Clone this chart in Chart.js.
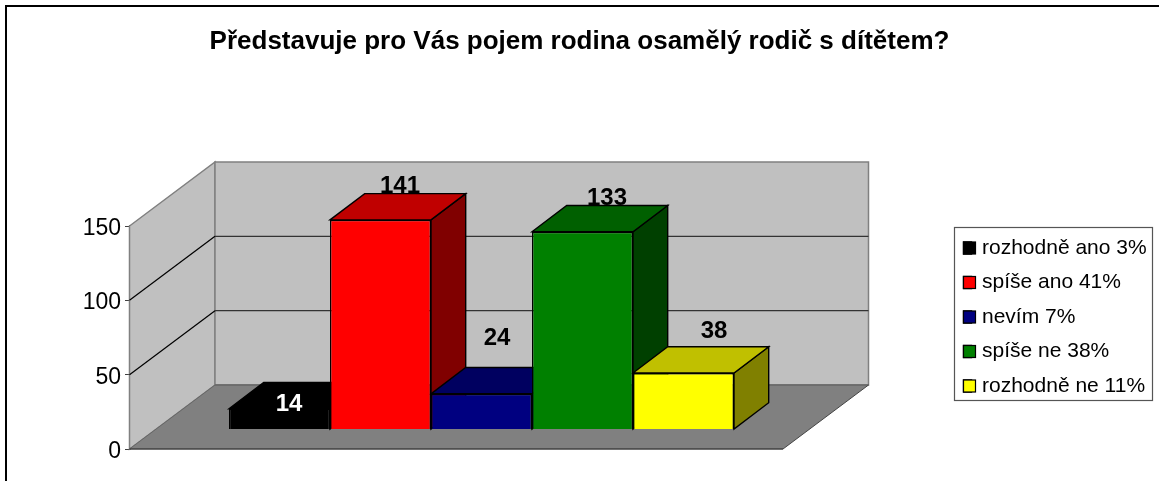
<!DOCTYPE html>
<html><head><meta charset="utf-8">
<style>html,body{margin:0;padding:0;background:#fff}canvas{display:block}</style>
<script src="https://cdn.jsdelivr.net/npm/chart.js@4"></script>
</head><body><canvas id="c" width="1159" height="481"></canvas>
<script>
const titleText = 'Představuje pro Vás pojem rodina osamělý rodič s dítětem?';
const categories = ['Odpovědi'];
const seriesNames = ['rozhodně ano 3%','spíše ano 41%','nevím 7%','spíše ne 38%','rozhodně ne 11%'];
const seriesValues = [14,141,24,133,38];
const frontColors = ['#000000','#ff0000','#000080','#008000','#ffff00'];
const topColors = ['#000000','#c00000','#000060','#006000','#c0c000'];
const sideColors = ['#000000','#800000','#000040','#004000','#808000'];
const labelColors = ['#ffffff','#000000','#000000','#000000','#000000'];
const labelOffsets = [[9.5,-4],[19.5,-34],[15.5,-55.5],[24.5,-33],[30.5,-42]];
const yTicks = [0,50,100,150];
const wallDepth = [85.5,-64], barShift = [25,-19.5], barDepth = [34.7,-26.3];
const FONT = '"Liberation Sans", Arial, sans-serif';

function poly(ctx, pts, fill, stroke, lw){
  ctx.beginPath();
  pts.forEach((p,i)=> i?ctx.lineTo(p[0],p[1]):ctx.moveTo(p[0],p[1]));
  ctx.closePath();
  if(fill){ctx.fillStyle=fill;ctx.fill();}
  if(stroke){ctx.strokeStyle=stroke;ctx.lineWidth=lw||1;ctx.stroke();}
}
function line(ctx,x1,y1,x2,y2,c,w){ctx.beginPath();ctx.moveTo(x1,y1);ctx.lineTo(x2,y2);ctx.strokeStyle=c;ctx.lineWidth=w;ctx.stroke();}

const scene = {
  id:'scene',
  afterLayout(chart){
    const l = chart.legend;
    l.left = 950; l.right = 1159; l.top = 224; l.bottom = 476;
  },
  beforeDraw(chart){
    const ctx = chart.ctx;
    ctx.save();
    line(ctx,6,6,1159,6,'#000',2);
    line(ctx,6,5,6,481,'#000',2);
    ctx.strokeStyle='#555';ctx.lineWidth=1.2;ctx.strokeRect(954.5,227.5,198,173);
    ctx.restore();
  },
  beforeDatasetsDraw(chart){
    const ctx = chart.ctx, a = chart.chartArea, y = chart.scales.y;
    const [dx,dy] = wallDepth;
    const L=a.left-0.5,R=a.right,T=a.top,B=a.bottom;
    ctx.save();
    poly(ctx,[[L,B],[R,B],[R+dx,B+dy],[L+dx,B+dy]],'#808080');
    poly(ctx,[[L,T],[L+dx,T+dy],[L+dx,B+dy],[L,B]],'#c0c0c0','#808080',1.5);
    poly(ctx,[[L+dx,T+dy],[R+dx,T+dy],[R+dx,B+dy],[L+dx,B+dy]],'#c0c0c0','#808080',1.5);
    line(ctx,L+dx,B+dy,R+dx,B+dy,'#666',1.5);
    line(ctx,L,B,L+dx,B+dy,'#666',1);
    line(ctx,R,B,R+dx,B+dy,'#444',1);
    yTicks.filter(v=>v>0&&v<150).forEach(v=>{
      const p=y.getPixelForValue(v);
      line(ctx,L,p,L+dx,p+dy,'#000',1.2);
      line(ctx,L+dx,p+dy,R+dx,p+dy,'#333',1.2);
    });
    line(ctx,L,B,R,B,'#404040',1.5);
    // side and top faces, left to right
    chart.data.datasets.forEach((ds,i)=>{
      const el = chart.getDatasetMeta(i).data[0];
      const x1 = el.x-el.width/2+barShift[0], x2 = el.x+el.width/2+barShift[0];
      const yt = el.y+barShift[1], yb = el.base+barShift[1];
      const [bx,by] = barDepth;
      const lw = 1.4;
      poly(ctx,[[x2,yt],[x2+bx,yt+by],[x2+bx,yb+by],[x2,yb]],sideColors[i],'#000',lw);
      poly(ctx,[[x1,yt],[x1+bx,yt+by],[x2+bx,yt+by],[x2,yt]],topColors[i],'#000',lw);
    });
    ctx.restore();
    ctx.save();
    ctx.translate(barShift[0],barShift[1]);
  },
  afterDatasetsDraw(chart){
    const ctx = chart.ctx;
    ctx.restore();
    ctx.save();
    ctx.font = 'bold 24px '+FONT;
    ctx.textAlign='center';ctx.textBaseline='middle';
    chart.data.datasets.forEach((ds,i)=>{
      const el = chart.getDatasetMeta(i).data[0];
      ctx.fillStyle = labelColors[i];
      ctx.fillText(String(ds.data[0]), el.x+barShift[0]+labelOffsets[i][0], el.y+barShift[1]+labelOffsets[i][1]);
    });
    ctx.restore();
  },
  afterDraw(chart){
    // legend swatches at full size over the native markers
    const ctx = chart.ctx;
    ctx.save();
    chart.legend.legendHitBoxes.forEach((b,i)=>{
      const sy = b.top + (b.height-12)/2;
      ctx.fillStyle = frontColors[i];
      ctx.strokeStyle = '#000'; ctx.lineWidth = 1.2;
      ctx.fillRect(b.left,sy,12,12); ctx.strokeRect(b.left,sy,12,12);
    });
    ctx.restore();
  }
};

new Chart(document.getElementById('c'),{
  type:'bar',
  data:{labels:categories,datasets:seriesNames.map((n,i)=>({
    label:n,data:[seriesValues[i]],backgroundColor:frontColors[i],borderColor:'#000',borderWidth:1.4,
    categoryPercentage:505/653,barPercentage:1
  }))},
  options:{
    responsive:false,animation:false,
    layout:{padding:{left:0,right:0,top:0,bottom:32}},
    plugins:{
      tooltip:{enabled:false},
      title:{display:true,text:titleText,color:'#000',font:{family:FONT,size:26,weight:'bold'},padding:{top:26,bottom:168.8}},
      legend:{display:true,position:'right',align:'start',
        labels:{boxWidth:8,boxHeight:12,padding:13.5,color:'#000',font:{family:FONT,size:21}}}
    },
    scales:{
      x:{display:false},
      y:{min:0,max:150,position:'left',
        afterFit(s){s.width=130;},
        afterBuildTicks(s){s.ticks=yTicks.map(v=>({value:v}));},
        border:{color:'#404040',width:1.5},
        grid:{drawOnChartArea:false,drawTicks:true,tickLength:5,color:'#404040'},
        ticks:{color:'#000',padding:4,labelOffset:2.5,font:{family:FONT,size:23}}},
      spacer:{position:'right',display:true,
        afterFit(s){s.width=376-((s.chart.legend&&s.chart.legend.width)||0);},
        border:{display:false},grid:{display:false},ticks:{display:false}}
    }
  },
  plugins:[scene]
});
</script></body></html>
